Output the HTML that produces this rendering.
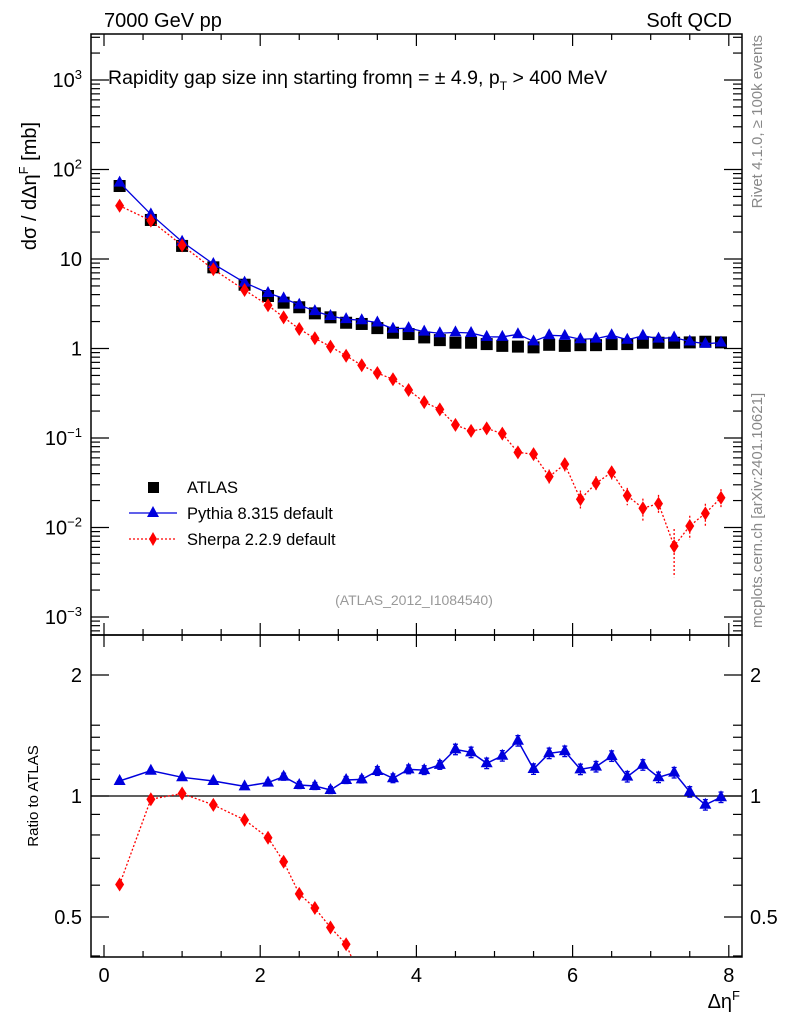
<!DOCTYPE html>
<html><head><meta charset="utf-8"><style>
html,body{margin:0;background:#fff;width:786px;height:1024px;overflow:hidden;}
svg{display:block;font-family:"Liberation Sans",sans-serif;}
</style></head><body>
<svg id="chart" width="786" height="1024" viewBox="0 0 786 1024" xmlns="http://www.w3.org/2000/svg">
<g id="main-marks"></g>
<g id="ratio-marks"></g>
<g id="axes"></g>
<text x="104" y="27" font-size="20">7000 GeV pp</text>
<text x="732" y="27" font-size="20" text-anchor="end">Soft QCD</text>
<text x="108" y="84" font-size="19.5">Rapidity gap size inη starting fromη = ± 4.9, p<tspan font-size="12" dy="6">T</tspan><tspan dy="-6"> &gt; 400 MeV</tspan></text>
<text transform="translate(36,186) rotate(-90)" font-size="20" text-anchor="middle">dσ / dΔη<tspan font-size="13" dy="-8">F</tspan><tspan dy="8"> [mb]</tspan></text>
<text transform="translate(38,796) rotate(-90)" font-size="15" text-anchor="middle">Ratio to ATLAS</text>
<text x="740" y="1008" font-size="20" text-anchor="end">Δη<tspan font-size="13" dy="-8">F</tspan></text>
<text transform="translate(762,35) rotate(-90)" font-size="15" fill="#888" text-anchor="end">Rivet 4.1.0, ≥ 100k events</text>
<text transform="translate(762,628) rotate(-90)" font-size="15" fill="#888">mcplots.cern.ch [arXiv:2401.10621]</text>
<text x="414" y="605" font-size="14" fill="#999" text-anchor="middle">(ATLAS_2012_I1084540)</text>
<g>
<rect x="148" y="482" width="11" height="11" fill="#000"/>
<text x="187" y="493" font-size="16.5">ATLAS</text>
<line x1="129" y1="513" x2="177" y2="513" stroke="#0000dd" stroke-width="1.3"/>
<polygon points="153,506 147,517 159,517" fill="#0000dd"/>
<text x="187" y="519" font-size="16.5">Pythia 8.315 default</text>
<line x1="129" y1="539" x2="177" y2="539" stroke="#f00" stroke-width="1.3" stroke-dasharray="2,2"/>
<polygon points="153,532 157,539 153,546 149,539" fill="#f00"/>
<text x="187" y="545" font-size="16.5">Sherpa 2.2.9 default</text>
</g>
</svg>
<script>
const xs = [0.2,0.6,1.0,1.4,1.8,2.1,2.3,2.5,2.7,2.9,3.1,3.3,3.5,3.7,3.9,4.1,4.3,4.5,4.7,4.9,5.1,5.3,5.5,5.7,5.9,6.1,6.3,6.5,6.7,6.9,7.1,7.3,7.5,7.7,7.9];
const atlas = [65.4,27.3,14.0,8.07,5.16,3.86,3.25,2.89,2.47,2.23,1.94,1.88,1.69,1.50,1.45,1.33,1.24,1.16,1.16,1.12,1.07,1.05,1.03,1.10,1.07,1.09,1.09,1.12,1.12,1.16,1.16,1.16,1.17,1.19,1.17];
const pythiaRatio = [1.09,1.156,1.113,1.09,1.057,1.08,1.117,1.065,1.059,1.035,1.096,1.10,1.154,1.107,1.165,1.16,1.195,1.306,1.284,1.206,1.259,1.372,1.167,1.277,1.292,1.165,1.183,1.257,1.117,1.195,1.113,1.143,1.024,0.951,0.993];
const pythia = atlas.map((a,i)=>a*pythiaRatio[i]);
const sherpa = [39.4,26.8,14.2,7.67,4.5,3.04,2.23,1.65,1.30,1.05,0.83,0.649,0.532,0.453,0.344,0.252,0.209,0.14,0.12,0.128,0.112,0.069,0.066,0.037,0.051,0.0207,0.0312,0.0414,0.0227,0.0164,0.0185,0.0062,0.0104,0.0144,0.0215];
const sherpaRelErr = [0.02,0.02,0.02,0.02,0.02,0.02,0.03,0.03,0.03,0.03,0.04,0.04,0.04,0.05,0.05,0.06,0.07,0.09,0.09,0.1,0.1,0.15,0.15,0.2,0.17,0.25,0.2,0.17,0.22,0.28,0.25,0.55,0.3,0.28,0.25];
const pythiaRelErr = [0.01,0.01,0.01,0.01,0.01,0.015,0.02,0.02,0.02,0.02,0.02,0.02,0.025,0.025,0.025,0.025,0.025,0.03,0.03,0.03,0.03,0.03,0.03,0.03,0.03,0.03,0.03,0.03,0.03,0.03,0.03,0.03,0.03,0.03,0.03];
const ratioTicks = [0.5,1,2];
const xTicks = [0,2,4,6,8];
const yTicks = [-3,-2,-1,0,1,2,3];
const yTickLabels = ["10⁻³","10⁻²","10⁻¹","1","10","10²","10³"];

const NS="http://www.w3.org/2000/svg";
const L=91,R=742,T=34,MB=635,RB=957;
const X=v=>104+78.1*v;
const Y=v=>348.5-89.5*Math.log10(v);
const YR=v=>796-402*Math.log10(v);
function mk(tag,attrs,parent){const e=document.createElementNS(NS,tag);for(const k in attrs)e.setAttribute(k,attrs[k]);parent.appendChild(e);return e;}
const main=document.getElementById('main-marks'), rat=document.getElementById('ratio-marks'), ax=document.getElementById('axes');
const defs=mk('defs',{},document.getElementById('chart'));
const c1=mk('clipPath',{id:'cm'},defs);mk('rect',{x:L,y:T,width:R-L,height:MB-T},c1);
const c2=mk('clipPath',{id:'cr'},defs);mk('rect',{x:L,y:MB,width:R-L,height:RB-MB},c2);
main.setAttribute('clip-path','url(#cm)');rat.setAttribute('clip-path','url(#cr)');
function tri(x,y,c,p,name){const e=mk('polygon',{points:`${x},${y-7} ${x-6},${y+4} ${x+6},${y+4}`,fill:c},p);

}
function dia(x,y,c,p,name){const e=mk('polygon',{points:`${x},${y-7} ${x+4.5},${y} ${x},${y+7} ${x-4.5},${y}`,fill:c},p);

}
xs.forEach((x,i)=>{const e=mk('rect',{x:X(x)-6,y:Y(atlas[i])-6,width:12,height:12,fill:'#000'},main);

});
let pl=mk('polyline',{points:xs.map((x,i)=>X(x)+','+Y(pythia[i])).join(' '),fill:'none',stroke:'#0000dd','stroke-width':1.3},main);


xs.forEach((x,i)=>tri(X(x),Y(pythia[i]),'#0000dd',main,'pythia-point'));
let sl=mk('polyline',{points:xs.map((x,i)=>X(x)+','+Y(sherpa[i])).join(' '),fill:'none',stroke:'#f00','stroke-width':1.3,'stroke-dasharray':'2,2'},main);


xs.forEach((x,i)=>{const e=sherpaRelErr[i];if(e>0.04)mk('line',{x1:X(x),x2:X(x),y1:Y(sherpa[i]*(1+e)),y2:Y(sherpa[i]*Math.max(1-e,0.05)),stroke:'#f00','stroke-width':1.3,'stroke-dasharray':'2,2'},main);
dia(X(x),Y(sherpa[i]),'#f00',main,'sherpa-point');});
mk('line',{x1:L,x2:R,y1:YR(1),y2:YR(1),stroke:'#000','stroke-width':1.3},rat);
const sr=sherpa.map((s,i)=>s/atlas[i]);
let srl=mk('polyline',{points:xs.map((x,i)=>X(x)+','+YR(sr[i])).join(' '),fill:'none',stroke:'#f00','stroke-width':1.3,'stroke-dasharray':'2,2'},rat);


xs.forEach((x,i)=>dia(X(x),YR(sr[i]),'#f00',rat,'sherpa-ratio-point'));
const pr=pythia.map((p,i)=>p/atlas[i]);
let prl=mk('polyline',{points:xs.map((x,i)=>X(x)+','+YR(pr[i])).join(' '),fill:'none',stroke:'#0000dd','stroke-width':1.5},rat);


xs.forEach((x,i)=>{const e=pythiaRelErr[i];if(e>0.012){const y1=YR(pr[i]*(1+e)),y2=YR(pr[i]*(1-e));
mk('line',{x1:X(x),x2:X(x),y1,y2,stroke:'#0000dd','stroke-width':1.3},rat);
mk('line',{x1:X(x)-2.5,x2:X(x)+2.5,y1,y2:y1,stroke:'#0000dd','stroke-width':1.3},rat);
mk('line',{x1:X(x)-2.5,x2:X(x)+2.5,y1:y2,y2,stroke:'#0000dd','stroke-width':1.3},rat);}
tri(X(x),YR(pr[i]),'#0000dd',rat,'pythia-ratio-point');});
[[T,MB],[MB,RB]].forEach(([a,b])=>mk('rect',{x:L,y:a,width:R-L,height:b-a,fill:'none',stroke:'#000','stroke-width':1.5},ax));
for(let v=0;v<=8.01;v+=0.5){const maj=Math.abs(v-Math.round(v/2)*2)<0.01;const len=maj?12:6;
[[T,1],[MB,-1],[MB,1],[RB,-1]].forEach(([y,d])=>mk('line',{x1:X(v),x2:X(v),y1:y,y2:y+d*len,stroke:'#000','stroke-width':1.2},ax));}
xTicks.forEach(v=>{const t=mk('text',{x:X(v),y:982,'font-size':20,'text-anchor':'middle'},ax);t.textContent=v;

});
for(let d=-4;d<=3;d++){for(let m=1;m<10;m++){const v=m*Math.pow(10,d);const y=Y(v);if(y<T||y>MB)continue;const len=m==1?18:9;
mk('line',{x1:L,x2:L+len,y1:y,y2:y,stroke:'#000','stroke-width':1.2},ax);mk('line',{x1:R,x2:R-len,y1:y,y2:y,stroke:'#000','stroke-width':1.2},ax);}}
yTicks.forEach((d,i)=>{const t=mk('text',{x:82,y:Y(Math.pow(10,d))+7,'font-size':20,'text-anchor':'end'},ax);
const lab=yTickLabels[i];
if(lab.startsWith('10')&&lab.length>2){t.textContent='10';const s=mk('tspan',{'font-size':13,dy:-8},t);s.textContent=lab.slice(2).replace('⁻','−').replace(/[¹²³]/,c=>({'¹':'1','²':'2','³':'3'})[c]);}else t.textContent=lab;

});
[0.4,0.5,0.6,0.7,0.8,0.9,1,1.1,1.2,1.3,1.4,1.5,2].forEach(v=>{const y=YR(v);if(y<MB||y>RB)return;const len=(v==0.5||v==1||v==2)?18:9;
mk('line',{x1:L,x2:L+len,y1:y,y2:y,stroke:'#000','stroke-width':1.2},ax);mk('line',{x1:R,x2:R-len,y1:y,y2:y,stroke:'#000','stroke-width':1.2},ax);});
ratioTicks.forEach(v=>{[[82,'end'],[750,'start']].forEach(([x,a])=>{const t=mk('text',{x,y:YR(v)+7,'font-size':20,'text-anchor':a},ax);t.textContent=v;

});});
</script>
</body></html>
